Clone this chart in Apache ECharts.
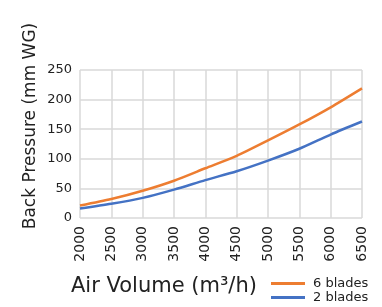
<!DOCTYPE html>
<html>
<head>
<meta charset="utf-8">
<script src="https://cdn.jsdelivr.net/npm/echarts@6/dist/echarts.min.js"></script>
<style>
  html, body { margin: 0; padding: 0; background: #fff; }
  #myChart { width: 382px; height: 307px; }
</style>
</head>
<body>
<div id="myChart"></div>
<script>
// 数据
const airVolume = [2000, 2500, 3000, 3500, 4000, 4500, 5000, 5500, 6000, 6500]
const sixBlades = [21, 32, 46, 63, 84, 105, 131, 158, 187, 219]
const twoBlades = [16, 24, 34, 48, 64, 79, 97, 117, 141, 163]
const yTicks = [0, 50, 100, 150, 200, 250]

const font = 'DejaVu Sans'
let myChart = echarts.init(document.getElementById('myChart'))

myChart.setOption({
  animation: false,
  textStyle: { fontFamily: font },
  grid: { left: 80, right: 20, top: 70, bottom: 89 },
  title: {
    text: 'Air Volume (m³/h)',
    left: 71,
    top: 276,
    padding: 0,
    textStyle: { fontFamily: font, fontSize: 21, fontWeight: 'normal', color: '#222' }
  },
  graphic: [{
    type: 'text',
    x: 31,
    y: 126,
    rotation: Math.PI / 2,
    style: {
      text: 'Back Pressure (mm WG)',
      fontFamily: font,
      fontSize: 17,
      fill: '#222',
      align: 'center',
      verticalAlign: 'middle'
    }
  }],
  legend: {
    orient: 'vertical',
    left: 271,
    top: 277,
    padding: 0,
    icon: 'rect',
    itemWidth: 34,
    itemHeight: 3,
    itemGap: 1,
    textStyle: { fontFamily: font, fontSize: 13, lineHeight: 13, color: '#222', padding: [0, 0, 0, 3] },
    data: ['6 blades', '2 blades']
  },
  xAxis: {
    type: 'value',
    min: 2000,
    max: 6500,
    interval: 500,
    axisLine: { show: false },
    axisTick: { show: false },
    splitLine: { show: true, lineStyle: { color: '#d9d9d9', width: 1.5 } },
    axisLabel: {
      rotate: 90,
      fontFamily: font,
      fontSize: 14,
      color: '#222',
      margin: 8,
      showMinLabel: true,
      showMaxLabel: true,
      formatter: v => String(v)
    }
  },
  yAxis: {
    type: 'value',
    min: yTicks[0],
    max: yTicks[yTicks.length - 1],
    interval: 50,
    axisLine: { show: false },
    axisTick: { show: false },
    splitLine: { lineStyle: { color: '#d9d9d9', width: 1.5 } },
    axisLabel: { fontFamily: font, fontSize: 13, color: '#222', margin: 8 }
  },
  series: [
    {
      name: '6 blades',
      type: 'line',
      smooth: 0.25,
      showSymbol: false,
      color: '#ED7D31',
      lineStyle: { width: 2.5 },
      data: airVolume.map((x, i) => [x, sixBlades[i]])
    },
    {
      name: '2 blades',
      type: 'line',
      smooth: 0.25,
      showSymbol: false,
      color: '#4472C4',
      lineStyle: { width: 2.5 },
      data: airVolume.map((x, i) => [x, twoBlades[i]])
    }
  ]
})
</script>
</body>
</html>
